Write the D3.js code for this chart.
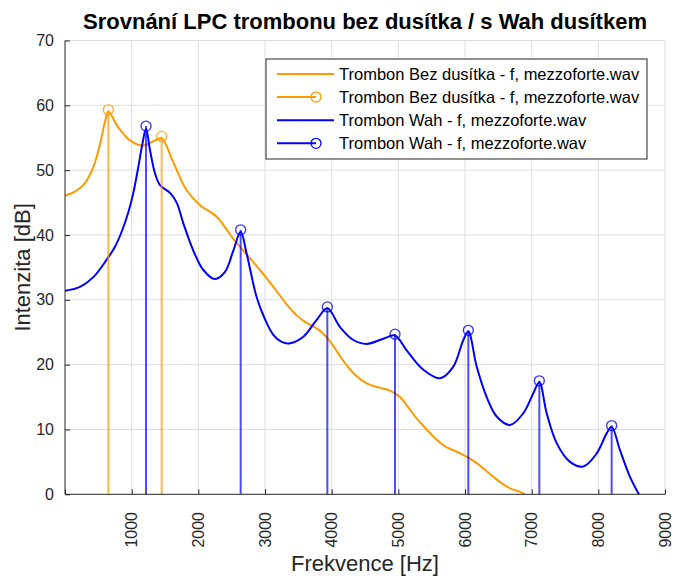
<!DOCTYPE html>
<html>
<head>
<meta charset="utf-8">
<script src="https://cdn.jsdelivr.net/npm/d3@7"></script>
<style>
  body { margin: 0; background: #fff; }
  text { font-family: "Liberation Sans", Arial, Helvetica, sans-serif; fill: #262626; }
</style>
</head>
<body>
<div id="chart"></div>
<script>
// LPC envelope - trombone without mute (orange)
var bezFreq = [0, 150, 300, 425, 525, 600, 650, 800, 975, 1175, 1350, 1450, 1625, 1825, 2025, 2275,
  2525, 2725, 2925, 3125, 3325, 3475, 3600, 3725, 3850, 3975, 4100, 4225, 4375, 4525, 4700, 4875,
  5025, 5150, 5275, 5425, 5575, 5700, 5825, 5950, 6075, 6175, 6300, 6425, 6550, 6675, 6875, 6950];
var bezDb = [46.1, 46.7, 48.0, 50.5, 54.0, 57.5, 59.0, 56.6, 54.6, 53.8, 54.6, 54.9, 51.2, 46.9, 44.6, 42.8,
  39.4, 37.0, 34.6, 32.0, 29.3, 27.6, 26.6, 25.9, 25.0, 23.6, 21.7, 19.9, 18.2, 17.1, 16.5, 16.0,
  15.0, 13.4, 11.7, 10.0, 8.4, 7.4, 6.8, 6.2, 5.5, 4.8, 3.8, 2.7, 1.7, 0.9, 0.15, -0.6];

// LPC envelope - trombone with Wah mute (blue)
var wahFreq = [0, 225, 425, 625, 750, 850, 950, 1025, 1100, 1160, 1215, 1275, 1350, 1425, 1575, 1675,
  1775, 1925, 2075, 2250, 2400, 2525, 2635, 2725, 2875, 3000, 3125, 3250, 3375, 3575, 3775, 3935,
  4125, 4325, 4525, 4775, 4950, 5125, 5375, 5625, 5825, 5975, 6050, 6175, 6325, 6475, 6675, 6875,
  7025, 7115, 7225, 7375, 7575, 7775, 7975, 8125, 8200, 8325, 8475, 8600, 8650];
var wahDb = [31.4, 32.0, 33.5, 36.2, 38.2, 40.5, 43.5, 46.5, 50.5, 54.0, 56.4, 53.1, 49.5, 47.7, 46.5, 45.0,
  41.8, 37.6, 34.6, 33.2, 34.3, 37.6, 40.5, 37.1, 30.4, 27.0, 24.6, 23.5, 23.3, 24.3, 26.9, 28.7,
  25.8, 23.8, 23.2, 24.0, 24.5, 22.2, 19.2, 17.9, 19.7, 23.8, 25.1, 19.7, 15.0, 12.0, 10.7, 12.5,
  15.6, 17.3, 12.5, 7.9, 5.0, 4.3, 6.3, 9.4, 10.4, 6.8, 2.7, 0.15, -0.8];

// formant peaks (stems)
var bezPeakFreq = [650, 1450];
var bezPeakDb = [59.3, 55.2];
var wahPeakFreq = [1215, 2635, 3935, 4950, 6050, 7115, 8200];
var wahPeakDb = [56.8, 40.8, 28.9, 24.7, 25.3, 17.5, 10.6];

var xTicks = [1000, 2000, 3000, 4000, 5000, 6000, 7000, 8000, 9000];
var yTicks = [0, 10, 20, 30, 40, 50, 60, 70];

var legendLabels = [
  "Trombon Bez dusítka - f, mezzoforte.wav",
  "Trombon Bez dusítka - f, mezzoforte.wav",
  "Trombon Wah - f, mezzoforte.wav",
  "Trombon Wah - f, mezzoforte.wav"
];

var W = 677, H = 577;
var pLeft = 65, pRight = 665, pTop = 40.5, pBottom = 494.3;
var orange = "#ff9900", blue = "#0000ff";

var svg = d3.select("#chart").append("svg")
  .attr("width", W).attr("height", H);

var x = d3.scaleLinear().domain([0, 9000]).range([pLeft, pRight]);
var y = d3.scaleLinear().domain([0, 70]).range([pBottom, pTop]);

svg.append("defs").append("clipPath").attr("id", "plotclip")
  .append("rect").attr("x", pLeft).attr("y", pTop)
  .attr("width", pRight - pLeft).attr("height", pBottom - pTop);

// grid
var grid = svg.append("g");
grid.selectAll(".gx").data(xTicks).enter().append("line")
  .attr("x1", function (d) { return x(d); }).attr("x2", function (d) { return x(d); })
  .attr("y1", pTop).attr("y2", pBottom)
  .attr("stroke", "#dedede").attr("stroke-width", 1);
grid.selectAll(".gy").data(yTicks.filter(function (d) { return d > 0; })).enter().append("line")
  .attr("x1", pLeft).attr("x2", pRight)
  .attr("y1", function (d) { return y(d); }).attr("y2", function (d) { return y(d); })
  .attr("stroke", "#dedede").attr("stroke-width", 1);

var plot = svg.append("g").attr("clip-path", "url(#plotclip)");

var line = d3.line()
  .x(function (d) { return x(d[0]); })
  .y(function (d) { return y(d[1]); })
  .curve(d3.curveCatmullRom.alpha(0.5));

plot.append("path")
  .datum(d3.zip(bezFreq, bezDb))
  .attr("d", line)
  .attr("fill", "none").attr("stroke", orange).attr("stroke-width", 2);

plot.append("path")
  .datum(d3.zip(wahFreq, wahDb))
  .attr("d", line)
  .attr("fill", "none").attr("stroke", blue).attr("stroke-width", 2);

function drawStems(freqs, dbs, color) {
  var data = d3.zip(freqs, dbs);
  plot.selectAll(null).data(data).enter().append("line")
    .attr("x1", function (d) { return x(d[0]); }).attr("x2", function (d) { return x(d[0]); })
    .attr("y1", y(0)).attr("y2", function (d) { return y(d[1]); })
    .attr("stroke", color).attr("stroke-width", 2).attr("stroke-opacity", 0.7);
  plot.selectAll(null).data(data).enter().append("circle")
    .attr("cx", function (d) { return x(d[0]); })
    .attr("cy", function (d) { return y(d[1]); })
    .attr("r", 5)
    .attr("fill", "none").attr("stroke", color).attr("stroke-width", 1.3).attr("stroke-opacity", 0.8);
}
drawStems(bezPeakFreq, bezPeakDb, orange);
drawStems(wahPeakFreq, wahPeakDb, blue);

// axes (MATLAB style: ticks inside, box off)
var xAxis = svg.append("g").attr("transform", "translate(0," + pBottom + ")")
  .call(d3.axisBottom(x).tickValues([0].concat(xTicks)).tickSize(-5).tickFormat(""));
xAxis.select(".domain").attr("stroke", "#262626").attr("d", "M" + pLeft + ",0H" + pRight);
xAxis.selectAll(".tick line").attr("stroke", "#262626");

var yAxis = svg.append("g").attr("transform", "translate(" + pLeft + ",0)")
  .call(d3.axisLeft(y).tickValues(yTicks).tickSize(-5).tickFormat(""));
yAxis.select(".domain").attr("stroke", "#262626").attr("d", "M0," + pTop + "V" + pBottom);
yAxis.selectAll(".tick line").attr("stroke", "#262626");

// tick labels
svg.append("g").selectAll("text").data(xTicks).enter().append("text")
  .attr("transform", function (d) { return "translate(" + x(d) + ",512) rotate(-90)"; })
  .attr("text-anchor", "end").attr("dy", "0.35em")
  .style("font-size", "16px")
  .text(function (d) { return d; });

svg.append("g").selectAll("text").data(yTicks).enter().append("text")
  .attr("x", 54).attr("y", function (d) { return y(d); })
  .attr("text-anchor", "end").attr("dy", "0.35em")
  .style("font-size", "16px")
  .text(function (d) { return d; });

// labels and title
svg.append("text")
  .attr("x", (pLeft + pRight) / 2).attr("y", 571)
  .attr("text-anchor", "middle").style("font-size", "22px")
  .text("Frekvence [Hz]");

svg.append("text")
  .attr("transform", "translate(30," + (pTop + pBottom) / 2 + ") rotate(-90)")
  .attr("text-anchor", "middle").style("font-size", "22px")
  .text("Intenzita [dB]");

svg.append("text")
  .attr("x", 365).attr("y", 29)
  .attr("text-anchor", "middle").style("font-size", "22px").style("font-weight", "bold")
  .style("fill", "#000")
  .text("Srovnání LPC trombonu bez dusítka / s Wah dusítkem");

// legend
var legend = svg.append("g");
legend.append("rect")
  .attr("x", 266).attr("y", 59).attr("width", 381).attr("height", 100)
  .attr("fill", "#fff").attr("stroke", "#262626").attr("stroke-width", 1);

var legendColors = [orange, orange, blue, blue];
legendLabels.forEach(function (label, i) {
  var ly = 74 + i * 23.1;
  var isStem = i % 2 === 1;
  legend.append("line")
    .attr("x1", 277).attr("x2", isStem ? 316 : 334)
    .attr("y1", ly).attr("y2", ly)
    .attr("stroke", legendColors[i]).attr("stroke-width", 2);
  if (isStem) {
    legend.append("circle")
      .attr("cx", 316).attr("cy", ly).attr("r", 5)
      .attr("fill", "none").attr("stroke", legendColors[i]).attr("stroke-width", 1.3);
  }
  legend.append("text")
    .attr("x", 339).attr("y", ly).attr("dy", "0.35em")
    .style("font-size", "16.5px").style("fill", "#000")
    .text(label);
});
</script>
</body>
</html>
